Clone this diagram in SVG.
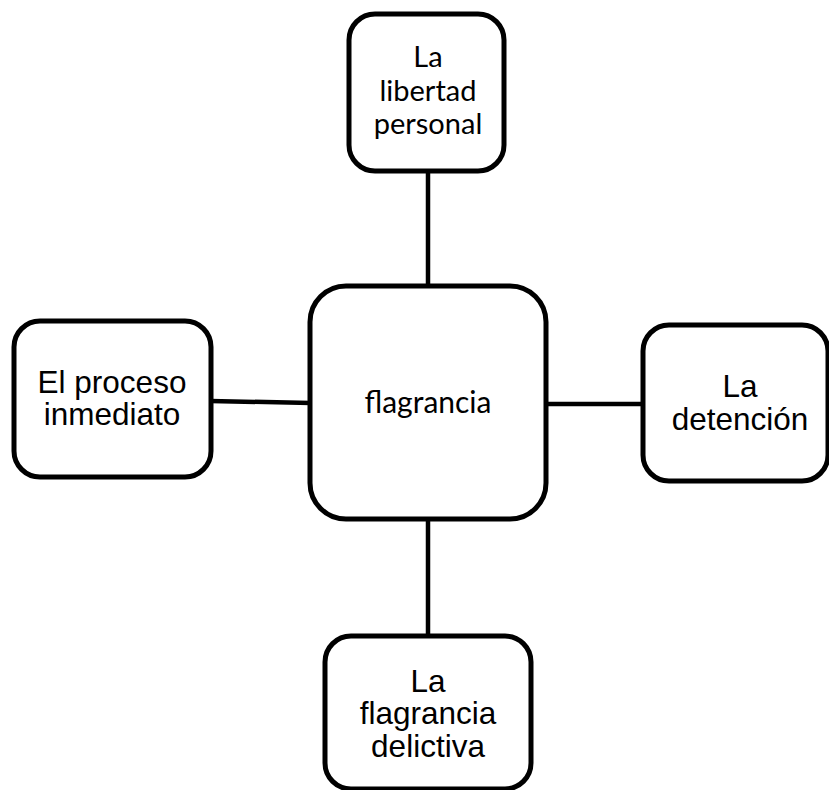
<svg xmlns="http://www.w3.org/2000/svg" width="829" height="790" viewBox="0 0 829 790">
<style>
.box{fill:#fff;stroke:#000;stroke-width:5}
.con{stroke:#000;stroke-width:4.5;fill:none}
.cal{font-family:Lato,"Open Sans",sans-serif;font-size:29px;fill:#000;text-anchor:middle}
.ar{font-family:"Liberation Sans",Arial,sans-serif;font-size:31.5px;fill:#000;text-anchor:middle}
</style>
<rect width="829" height="790" fill="#fff"/>
<g id="connectors">
<line class="con" x1="428" y1="170" x2="428" y2="287"/>
<line class="con" x1="210" y1="401" x2="311" y2="403"/>
<line class="con" x1="545" y1="404" x2="644" y2="404"/>
<line class="con" x1="428" y1="518" x2="428" y2="637"/>
</g>
<g id="n-top">
<rect class="box" x="349" y="14" width="155" height="157" rx="26"/>
<text class="cal" x="428" y="67">La</text>
<text class="cal" x="428" y="101">libertad</text>
<text class="cal" x="428" y="134">personal</text>
</g>
<g id="n-center">
<rect class="box" x="310" y="286" width="236" height="233" rx="36"/>
<text class="cal" x="428" y="413" style="font-size:30px">flagrancia</text>
</g>
<g id="n-left">
<rect class="box" x="14" y="321" width="197" height="156" rx="26"/>
<text class="ar" x="112" y="393">El proceso</text>
<text class="ar" x="112" y="425">inmediato</text>
</g>
<g id="n-right">
<rect class="box" x="643" y="325" width="185" height="156" rx="26"/>
<text class="ar" x="740" y="397">La</text>
<text class="ar" x="740" y="430">detención</text>
</g>
<g id="n-bottom">
<rect class="box" x="325" y="636" width="206" height="153" rx="26"/>
<text class="ar" x="428" y="692">La</text>
<text class="ar" x="428" y="724">flagrancia</text>
<text class="ar" x="428" y="757">delictiva</text>
</g>
</svg>
